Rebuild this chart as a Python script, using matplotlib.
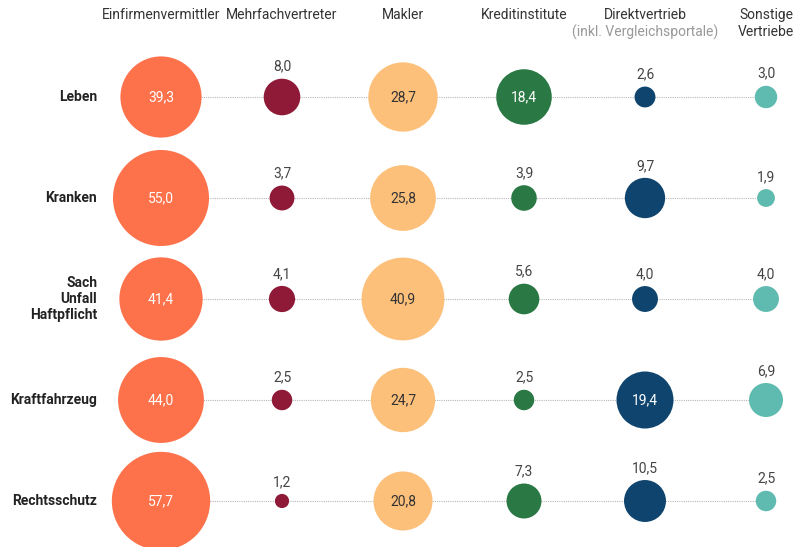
import numpy as np
import matplotlib.pyplot as plt

plt.rcParams['font.family'] = ['Roboto', 'DejaVu Sans']

# Daten (Anteile in %)
kanaele = ["Einfirmenvermittler", "Mehrfachvertreter", "Makler", "Kreditinstitute",
           "Direktvertrieb", "Sonstige\nVertriebe"]
sparten = ["Leben", "Kranken", "Sach\nUnfall\nHaftpflicht", "Kraftfahrzeug", "Rechtsschutz"]

leben = [39.3, 8.0, 28.7, 18.4, 2.6, 3.0]
kranken = [55.0, 3.7, 25.8, 3.9, 9.7, 1.9]
sach = [41.4, 4.1, 40.9, 5.6, 4.0, 4.0]
kfz = [44.0, 2.5, 24.7, 2.5, 19.4, 6.9]
recht = [57.7, 1.2, 20.8, 7.3, 10.5, 2.5]

farben = ["#fd714b", "#8e1a37", "#fdc07b", "#2a7843", "#0e446d", "#5fbab0"]
textfarben = ["white", "white", "#333333", "white", "white", "white"]

werte = np.array([leben, kranken, sach, kfz, recht])

W, H = 805, 547
fig = plt.figure(figsize=(W / 100, H / 100), dpi=100)
ax = fig.add_axes([0, 0, 1, 1])

# Skalen: Spalte -> Pixel, Zeile -> Pixel
dx, x0 = 121, 161
dy, y0 = 101, 97
ax.set_xlim(-x0 / dx, (W - x0) / dx)
ax.set_ylim((H - y0) / dy, -y0 / dy)
ax.axis("off")

r_max = 48  # Radius in px für 55,0

def radius(v):
    return r_max * np.sqrt(v / 55.0)

n_rows, n_cols = werte.shape
for i in range(n_rows):
    ax.plot([0, n_cols - 1], [i, i], color="#b8b8b8", lw=0.8, ls=(0, (1, 1)), zorder=1)
    for j in range(n_cols):
        v = werte[i, j]
        r = radius(v)
        ax.scatter(j, i, s=(2 * r * 0.72) ** 2, color=farben[j], edgecolors="none", zorder=2)
        txt = f"{v:.1f}".replace(".", ",")
        if v >= 15:
            ax.text(j, i, txt, ha="center", va="center", fontsize=10,
                    color=textfarben[j], zorder=3)
        else:
            ax.annotate(txt, (j, i), xytext=(0, (r + 12) * 0.72), textcoords="offset points",
                        ha="center", va="center", fontsize=10, color="#444444", zorder=3)
    ax.text(-64 / dx, i, sparten[i], ha="right", va="center", fontsize=10,
            fontweight="bold", color="#222222", linespacing=1.15)

# Kopfzeile
for j, k in enumerate(kanaele):
    ax.text(j, -89 / dy, k, ha="center", va="top", fontsize=10, color="#333333",
            linespacing=1.3)
ax.text(4, -72 / dy, "(inkl. Vergleichsportale)", ha="center", va="top", fontsize=10,
        color="#999999")

fig.savefig("out.png", dpi=100)
